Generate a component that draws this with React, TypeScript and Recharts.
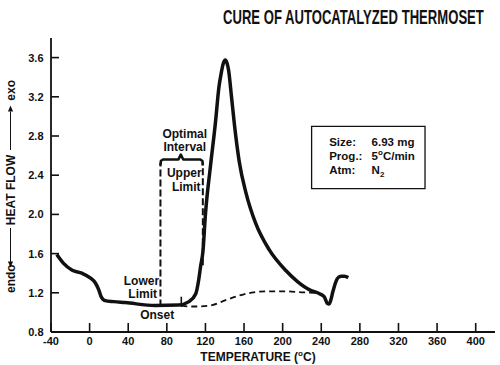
import React from 'react';
import { LineChart, Line, XAxis, YAxis, ReferenceLine, ReferenceArea, ReferenceDot } from 'recharts';

const chartTitle = 'CURE OF AUTOCATALYZED THERMOSET';
const xTicks = [-40, 0, 40, 80, 120, 160, 200, 240, 280, 320, 360, 400];
const yTicks = [0.8, 1.2, 1.6, 2.0, 2.4, 2.8, 3.2, 3.6];

// Heat flow curve (temperature °C, heat flow)
const heatT = [-34, -27, -18, -8, 1, 6, 9.5, 12, 16, 25, 37, 68, 92, 103, 110, 113, 115, 117.4, 120, 125.3, 130.3, 134, 136.5, 138.5, 140.5, 142.5, 144, 147, 150, 155, 162, 172, 186, 203, 216, 228, 236, 243, 246.5, 248, 250, 252, 255, 258, 261, 264, 268];
const heatV = [1.59, 1.5, 1.43, 1.4, 1.35, 1.3, 1.23, 1.16, 1.12, 1.11, 1.1, 1.07, 1.075, 1.11, 1.19, 1.33, 1.47, 1.62, 2.0, 2.5, 2.93, 3.3, 3.45, 3.54, 3.575, 3.54, 3.47, 3.2, 2.92, 2.54, 2.22, 1.91, 1.64, 1.43, 1.31, 1.23, 1.2, 1.16, 1.09, 1.085, 1.13, 1.21, 1.31, 1.36, 1.37, 1.37, 1.355];

// Interpolated baseline (dashed)
const baseT = [95, 105, 113, 127, 141, 158, 170, 182, 203, 220, 236];
const baseV = [1.07, 1.06, 1.06, 1.075, 1.125, 1.18, 1.205, 1.215, 1.215, 1.205, 1.2];

// Optimal interval brace
const braceT = [73.4, 73.8, 76, 92, 94.5, 97, 114.7, 116.9, 117.3];
const braceV = [2.5, 2.545, 2.56, 2.56, 2.61, 2.56, 2.56, 2.545, 2.5];

const lowerLimitT = 73.4;
const upperLimitT = 117.3;
const limitTopV = 2.52;
const lowerLimitBottomV = 1.06;
const upperLimitBottomV = 1.48;
const onsetT = 95;
const onsetV = [1.055, 1.16];

const annotations = [
  { t: 98.6, v: 2.777, text: 'Optimal' },
  { t: 98.6, v: 2.644, text: 'Interval' },
  { t: 98.1, v: 2.379, text: 'Upper' },
  { t: 100.1, v: 2.236, text: 'Limit' },
  { t: 53.7, v: 1.277, text: 'Lower' },
  { t: 55, v: 1.144, text: 'Limit' },
  { t: 70, v: 0.93, text: 'Onset' },
];

const infoBox = { t1: 230, t2: 347.5, v1: 2.263, v2: 2.899 };
const infoLabels = ['Size:', 'Prog.:', 'Atm:'];
const infoValues: [string, string][][] = [
  [['6.93 mg', '']],
  [['5', ''], ['o', 'sup'], ['C/min', '']],
  [['N', ''], ['2', 'sub']],
];

const FONT = "'Liberation Sans', Arial, Helvetica, sans-serif";
const INK = '#111';

const heatData = heatT.map((t, i) => ({ t, v: heatV[i] }));
const baseData = baseT.map((t, i) => ({ t, v: baseV[i] }));
const braceData = braceT.map((t, i) => ({ t, v: braceV[i] }));

const YTick = (props: any) => {
  const { x, y, payload } = props;
  return (
    <g>
      <line x1={x} y1={y} x2={x + 8} y2={y} stroke={INK} strokeWidth={1.6} />
      <text x={x - 7.5} y={y} dy="0.36em" textAnchor="end" fontFamily={FONT} fontWeight="bold" fontSize={11} fill={INK}>
        {Number(payload.value).toFixed(1)}
      </text>
    </g>
  );
};

const XTick = (props: any) => {
  const { x, y, payload } = props;
  return (
    <g>
      <line x1={x} y1={y} x2={x} y2={y - 9} stroke={INK} strokeWidth={1.6} />
      <text x={x} y={y + 12.5} textAnchor="middle" fontFamily={FONT} fontWeight="bold" fontSize={11} fill={INK}>
        {payload.value}
      </text>
    </g>
  );
};

const YLabel = (props: any) => {
  const vb = props.viewBox || { x: 0, y: 38, width: 51, height: 294 };
  const cx = 10.5;
  const cy = vb.y + vb.height / 2 + 1.5;
  const common = { fontFamily: FONT, fontWeight: 'bold' as const, fontSize: 12, fill: INK };
  return (
    <g transform={`translate(${cx}, ${cy}) rotate(-90)`}>
      <text x={-106.5} y={4.3} textAnchor="start" {...common}>endo</text>
      <line x1={-76} y1={0} x2={-41.5} y2={0} stroke={INK} strokeWidth={1} />
      <polygon points="-81,0 -75,-2.6 -75,2.6" fill={INK} />
      <text x={-3.5} y={4.3} textAnchor="middle" {...common}>HEAT FLOW</text>
      <line x1={36.5} y1={0} x2={75} y2={0} stroke={INK} strokeWidth={1} />
      <polygon points="81,0 75,-2.6 75,2.6" fill={INK} />
      <text x={106.5} y={4.3} textAnchor="end" {...common}>exo</text>
    </g>
  );
};

const XLabel = (props: any) => {
  const vb = props.viewBox || { x: 51, y: 332, width: 444, height: 33 };
  return (
    <text x={vb.x + 207} y={vb.y + 29} textAnchor="middle" fontFamily={FONT} fontWeight="bold" fontSize={12} fill={INK}>
      TEMPERATURE (<tspan fontSize={8} dy={-5}>o</tspan><tspan dy={5}>C)</tspan>
    </text>
  );
};

const InfoContent = (props: any) => {
  const vb = props.viewBox;
  if (!vb) return null;
  const common = { fontFamily: FONT, fontWeight: 'bold' as const, fontSize: 11.5, fill: INK };
  return (
    <g>
      {infoLabels.map((lab, i) => (
        <text key={'l' + i} x={vb.x + 17.6} y={vb.y + 20 + i * 13.7} {...common}>{lab}</text>
      ))}
      {infoValues.map((parts, i) => (
        <text key={'v' + i} x={vb.x + 60} y={vb.y + 20 + i * 13.7} {...common}>
          {parts.map(([s, kind], j) => {
            if (kind === 'sup') return <tspan key={j} fontSize={8} dy={-5}>{s}</tspan>;
            if (kind === 'sub') return <tspan key={j} fontSize={8} dy={3}>{s}</tspan>;
            const prev = j > 0 ? parts[j - 1][1] : '';
            const dy = prev === 'sup' ? 5 : prev === 'sub' ? -3 : 0;
            return <tspan key={j} dy={dy}>{s}</tspan>;
          })}
        </text>
      ))}
    </g>
  );
};

const annotationLabel = (text: string) => (props: any) => {
  const vb = props.viewBox || { x: 0, y: 0 };
  const x = vb.x + (vb.width || 0) / 2;
  const y = vb.y + (vb.height || 0) / 2;
  return (
    <text x={x} y={y} textAnchor="middle" fontFamily={FONT} fontWeight="bold" fontSize={12} fill={INK}>
      {text}
    </text>
  );
};

export default function App() {
  return (
    <div style={{ position: 'absolute', left: 0, top: 0, width: 500, height: 365, background: '#fff' }}>
      <svg width={500} height={38} style={{ position: 'absolute', left: 0, top: 0 }}>
        <text transform="translate(223, 23.5) scale(1, 1.5)" x={0} y={0} fontFamily={FONT} fontWeight="bold" fontSize={13.1} fill={INK}>
          {chartTitle}
        </text>
      </svg>
      <div style={{ position: 'absolute', left: 0, top: 0 }}>
        <LineChart width={500} height={365} margin={{ top: 38, right: 5, bottom: 0, left: 0 }}>
          <XAxis
            dataKey="t"
            type="number"
            domain={[-40, 420]}
            ticks={xTicks}
            interval={0}
            height={33}
            tickSize={0}
            tickMargin={0}
            tickLine={false}
            axisLine={{ stroke: INK, strokeWidth: 1.8 }}
            tick={<XTick />}
            label={<XLabel />}
            allowDataOverflow
          />
          <YAxis
            dataKey="v"
            type="number"
            domain={[0.8, 3.8]}
            ticks={yTicks}
            interval={0}
            width={51}
            tickSize={0}
            tickMargin={0}
            tickLine={false}
            axisLine={{ stroke: INK, strokeWidth: 1.8 }}
            tick={<YTick />}
            label={<YLabel />}
            allowDataOverflow
          />
          <Line data={baseData} dataKey="v" type="monotone" stroke={INK} strokeWidth={1.8} strokeDasharray="6 4" dot={false} isAnimationActive={false} />
          <Line data={heatData} dataKey="v" type="monotone" stroke={INK} strokeWidth={3.5} dot={false} isAnimationActive={false} strokeLinejoin="round" />
          <Line data={braceData} dataKey="v" type="linear" stroke={INK} strokeWidth={2.6} dot={false} isAnimationActive={false} strokeLinejoin="round" />
          <ReferenceLine segment={[{ x: lowerLimitT, y: lowerLimitBottomV }, { x: lowerLimitT, y: limitTopV }]} stroke={INK} strokeWidth={2} strokeDasharray="7 3" />
          <ReferenceLine segment={[{ x: upperLimitT, y: upperLimitBottomV }, { x: upperLimitT, y: limitTopV }]} stroke={INK} strokeWidth={2} strokeDasharray="7 3" />
          <ReferenceLine segment={[{ x: onsetT, y: onsetV[0] }, { x: onsetT, y: onsetV[1] }]} stroke={INK} strokeWidth={1.6} />
          <ReferenceArea x1={infoBox.t1} x2={infoBox.t2} y1={infoBox.v1} y2={infoBox.v2} fill="#fff" fillOpacity={1} stroke={INK} strokeWidth={1.3} label={<InfoContent />} />
          {annotations.map((a, i) => (
            <ReferenceDot key={i} x={a.t} y={a.v} r={0} fill="none" stroke="none" ifOverflow="visible" label={annotationLabel(a.text)} />
          ))}
        </LineChart>
      </div>
    </div>
  );
}
